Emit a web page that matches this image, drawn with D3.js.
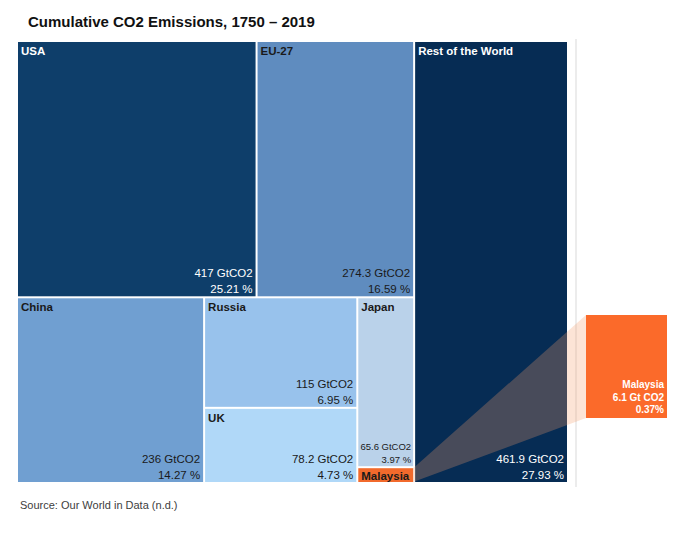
<!DOCTYPE html>
<html>
<head>
<meta charset="utf-8">
<script src="https://cdn.jsdelivr.net/npm/d3@7"></script>
<style>
  html, body { margin: 0; padding: 0; background: #fff; }
  svg { display: block; font-family: "Liberation Sans", Arial, sans-serif; }
</style>
</head>
<body>
<svg id="chart" width="673" height="535"></svg>
<script>
// ---- data ----
const names  = ["USA", "EU-27", "China", "Russia", "UK", "Japan", "Malaysia", "Rest of the World"];
const values = [417, 274.3, 236, 115, 78.2, 65.6, 6.1, 461.9];           // GtCO2
const shares = [25.21, 16.59, 14.27, 6.95, 4.73, 3.97, 0.37, 27.93];     // %
const titleText  = "Cumulative CO2 Emissions, 1750 \u2013 2019";
const sourceText = "Source: Our World in Data (n.d.)";
const highlight  = "Malaysia";

// ---- styles ----
const colors = {
  "USA": "#0e3e6a", "EU-27": "#5f8cbf", "China": "#709fd1", "Russia": "#98c2ec",
  "UK": "#b0d8f8", "Japan": "#bad2ea", "Malaysia": "#f26a2c", "Rest of the World": "#062c54"
};

const leaf = i => ({ name: names[i], value: values[i], share: shares[i] });
const idx = n => names.indexOf(n);

// nested structure (slice/dice alternating)
const tree = {
  name: "root",
  children: [
    { name: "left", children: [
      { name: "top", children: [leaf(idx("USA")), leaf(idx("EU-27"))] },
      { name: "bottom", children: [
        leaf(idx("China")),
        { name: "ru-uk", children: [leaf(idx("Russia")), leaf(idx("UK"))] },
        { name: "jp-my", children: [leaf(idx("Japan")), leaf(idx("Malaysia"))] }
      ] }
    ] },
    leaf(idx("Rest of the World"))
  ]
};

const svg = d3.select("#chart");
const X0 = 18, Y0 = 42, W = 549, H = 440;

const root = d3.hierarchy(tree).sum(d => d.children ? 0 : d.value);
d3.treemap().tile(d3.treemapSliceDice).size([W, H]).paddingInner(2).round(false)(root);

// title
svg.append("text").attr("x", 28).attr("y", 27)
  .attr("font-size", 15).attr("font-weight", "bold").attr("fill", "#111")
  .text(titleText);

// vertical separator line
svg.append("line").attr("x1", 576).attr("x2", 576).attr("y1", 39).attr("y2", 487)
  .attr("stroke", "#d9d9d9").attr("stroke-width", 1);

const g = svg.append("g").attr("transform", `translate(${X0},${Y0})`);
const leaves = root.leaves();

g.selectAll("rect.tile").data(leaves).join("rect")
  .attr("class", "tile")
  .attr("x", d => d.x0).attr("y", d => d.y0)
  .attr("width", d => d.x1 - d.x0).attr("height", d => d.y1 - d.y0)
  .attr("fill", d => colors[d.data.name]);

const txtColor = d => d3.hsl(colors[d.data.name]).l < 0.3 ? "#fff" : "#1a1a1a";
const fmtVal = v => (Number.isInteger(v) ? v : v.toFixed(1)) + " GtCO2";

// names
g.selectAll("text.name").data(leaves).join("text")
  .attr("class", "name")
  .attr("x", d => d.x0 + 3)
  .attr("y", d => d.data.name === highlight ? d.y1 - 2.5 : d.y0 + 13)
  .attr("font-size", 11.5).attr("font-weight", "bold")
  .attr("fill", txtColor)
  .text(d => d.data.name);

// values
const big = leaves.filter(d => d.data.name !== highlight);
big.forEach(d => {
  const small = (d.x1 - d.x0) < 70;
  const fs = small ? 9.5 : 11.5;
  const rx = d.x1 - (small ? 2 : 3);
  const l1 = small ? d.y1 - 16 : d.y1 - 19;
  const l2 = small ? d.y1 - 3 : d.y1 - 3;
  g.append("text").attr("x", rx).attr("y", l1).attr("text-anchor", "end")
    .attr("font-size", fs).attr("fill", txtColor(d)).text(fmtVal(d.data.value));
  g.append("text").attr("x", rx).attr("y", l2).attr("text-anchor", "end")
    .attr("font-size", fs).attr("fill", txtColor(d)).text(d.data.share.toFixed(2) + " %");
});

// callout
const my = leaves.find(d => d.data.name === highlight);
const bx0 = 586, bx1 = 667, by0 = 315, by1 = 418;
const mx = X0 + my.x1, myTop = Y0 + my.y0, myBot = Y0 + my.y1;
svg.append("path")
  .attr("d", `M${mx},${myTop}L${bx0},${by0}L${bx0},${by1}L${mx},${myBot}Z`)
  .attr("fill", "rgb(244,158,108)").attr("fill-opacity", 0.28);
svg.append("rect").attr("x", bx0).attr("y", by0).attr("width", bx1 - bx0).attr("height", by1 - by0)
  .attr("fill", "#fb6a2a");
const calloutLines = [my.data.name, my.data.value + " Gt CO2", my.data.share.toFixed(2) + "%"];
calloutLines.forEach((t, i) => {
  svg.append("text").attr("x", bx1 - 3).attr("y", 388 + i * 12.5)
    .attr("text-anchor", "end").attr("font-size", 10).attr("font-weight", "bold")
    .attr("fill", "#fff").text(t);
});

// source
svg.append("text").attr("x", 20).attr("y", 509).attr("font-size", 11).attr("fill", "#404040")
  .text(sourceText);
</script>
</body>
</html>
